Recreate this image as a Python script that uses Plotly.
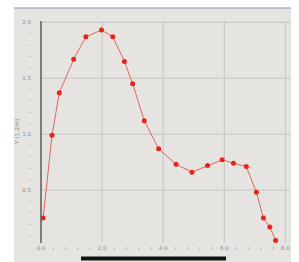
import plotly.graph_objects as go

x_vals = [0.07, 0.36, 0.60, 1.07, 1.47, 1.98, 2.35, 2.73, 3.00, 3.38, 3.85,
          4.42, 4.94, 5.45, 5.93, 6.30, 6.72, 7.05, 7.28, 7.49, 7.68]
y_vals = [0.25, 0.99, 1.37, 1.67, 1.87, 1.93, 1.87, 1.65, 1.45, 1.12, 0.87,
          0.73, 0.66, 0.72, 0.77, 0.74, 0.71, 0.48, 0.25, 0.17, 0.05]

x_tickvals = [0.0, 0.4, 0.8, 1.2, 1.6, 2.0, 2.4, 2.8, 3.2, 3.6, 4.0, 4.4, 4.8, 5.2, 5.6,
              6.0, 6.4, 6.8, 7.2, 7.6, 8.0]
x_ticktext = ["0.0", "ı", "ı", "ı", "ı", "2.0", "ı", "ı", "ı", "ı", "4.0", "ı", "ı", "ı", "ı",
              "6.0", "ı", "ı", "ı", "ı", "8.0"]
y_tickvals = [0.1, 0.2, 0.3, 0.4, 0.5, 0.6, 0.7, 0.8, 0.9, 1.0, 1.1, 1.2, 1.3, 1.4, 1.5,
              1.6, 1.7, 1.8, 1.9, 2.0]
y_ticktext = ["–", "–", "–", "–", "0.5", "–", "–", "–", "–", "1.0", "–", "–", "–", "–", "1.5",
              "–", "–", "–", "–", "2.0"]

fig = go.Figure()
fig.add_trace(go.Scatter(
    x=x_vals, y=y_vals, mode="lines+markers",
    line=dict(color="#e0665c", width=1),
    marker=dict(color="#e8231c", size=5),
    showlegend=False,
))

L, T, R, B = 41, 20, 9, 19
pw = 299 - L - R
ph = 262 - T - B

def px(xp):
    return (xp - L) / pw

def py(yp):
    return (262 - B - yp) / ph

fig.update_layout(
    width=299, height=262,
    margin=dict(l=L, r=R, t=T, b=B, pad=0),
    paper_bgcolor="#ffffff",
    plot_bgcolor="#e5e4e0",
    font=dict(family="DejaVu Sans", color="#8a8a8a", size=6),
    shapes=[
        dict(type="rect", xref="paper", yref="paper", x0=px(14), x1=px(291),
             y0=py(262), y1=py(8), fillcolor="#e5e4e0", line=dict(width=0), layer="below"),
        dict(type="line", xref="paper", yref="paper", x0=px(14), x1=px(291),
             y0=py(8), y1=py(8), line=dict(color="#8c92b8", width=1.2), layer="below"),
        dict(type="line", xref="paper", yref="paper", x0=0, x1=0,
             y0=py(243), y1=py(21), line=dict(color="#5a5a5a", width=1.5), layer="above"),
        dict(type="line", xref="paper", yref="paper", x0=px(81), x1=px(226),
             y0=py(258.5), y1=py(258.5), line=dict(color="#111111", width=4), layer="above"),
    ],
)
fig.update_xaxes(
    range=[0, 8.15], tickmode="array", tickvals=x_tickvals, ticktext=x_ticktext,
    showgrid=False, zeroline=False, showline=False, ticks="", ticklabelstandoff=0,
    tickfont=dict(size=5.5, color="#8a8a8a"),
)
fig.update_yaxes(
    range=[0.027, 2.02], tickmode="array", tickvals=y_tickvals, ticktext=y_ticktext,
    showgrid=False, zeroline=False, showline=False, ticks="", ticklabelstandoff=9,
    tickfont=dict(size=5.5, color="#8a8a8a"),
    title=dict(text="Y (1.2m)", font=dict(size=6, color="#8a8a8a"), standoff=2),
)
for gx in [2.0, 4.0, 6.0, 8.0]:
    fig.add_shape(type="line", xref="x", yref="paper", x0=gx, x1=gx, y0=0, y1=py(21),
                  line=dict(color="#c4c4c2", width=1), layer="below")
for gy in [0.5, 1.0, 1.5, 2.0]:
    fig.add_shape(type="line", xref="paper", yref="y", x0=0, x1=1, y0=gy, y1=gy,
                  line=dict(color="#c4c4c2", width=1), layer="below")

fig.write_html("out.html", config={"displayModeBar": False},
               post_script="document.body.style.margin='0';")
